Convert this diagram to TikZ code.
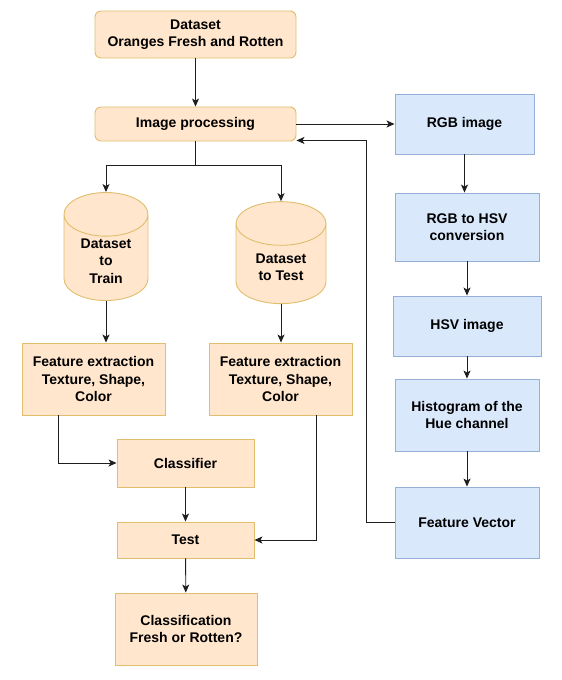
\documentclass[tikz,border=0pt]{standalone}
\usepackage{fontspec}
\setmainfont{Liberation Sans}
\usepackage{tikz}
\usepackage{xcolor}
\usetikzlibrary{arrows.meta, positioning, shapes.geometric}
\definecolor{orangefill}{RGB}{255,230,204}
\definecolor{orangeline}{RGB}{224,190,110}
\definecolor{bluefill}{RGB}{218,232,252}
\definecolor{blueline}{RGB}{150,175,215}
\definecolor{arrowgray}{RGB}{30,30,30}

\begin{document}
\begin{tikzpicture}[x=1pt, y=-1pt,
    every node/.style={font=\bfseries\fontsize{14}{17.5}\selectfont, align=center, inner sep=2pt},
    obox/.style={draw=orangeline, fill=orangefill, line width=0.9pt},
    rbox/.style={obox, rounded corners=6pt},
    bbox/.style={draw=blueline, fill=bluefill, line width=0.9pt},
    dbase/.style={cylinder, shape border rotate=90, aspect=0.8, draw=orangeline,
      fill=orangefill, line width=0.9pt},
    arr/.style={-{Stealth[length=8pt, width=7pt, inset=2pt]}, arrowgray, line width=0.9pt}]
        \useasboundingbox (0,0) rectangle (562,680);
        % Left column
        \node[rbox, minimum width=201pt, minimum height=47pt] (data) at (195.5,34.5)
          {Dataset\\Oranges Fresh and Rotten};
        \node[rbox, minimum width=201pt, minimum height=34pt] (improc) at (195.5,124)
          {Image processing};
        \node[dbase, minimum width=84pt, minimum height=99pt] (train) at (106,261)
          {Dataset\\to\\Train};
        \node[dbase, minimum width=90pt, minimum height=102pt] (test) at (281,267)
          {Dataset\\to Test};
        \node[obox, minimum width=143pt, minimum height=72pt] (featL) at (93.5,379)
          {Feature extraction\\Texture, Shape,\\Color};
        \node[obox, minimum width=143pt, minimum height=72pt] (featR) at (280.5,379)
          {Feature extraction\\Texture, Shape,\\Color};
        \node[obox, minimum width=137pt, minimum height=48pt] (classifier) at (185.5,463)
          {Classifier};
        \node[obox, minimum width=137pt, minimum height=36pt] (testbox) at (185.5,540)
          {Test};
        \node[obox, minimum width=142pt, minimum height=72pt] (result) at (186,629)
          {Classification\\Fresh or Rotten?};
        % Right column
        \node[bbox, minimum width=139pt, minimum height=60pt] (rgb) at (464.5,124)
          {RGB image};
        \node[bbox, minimum width=144pt, minimum height=68pt] (conv) at (467,227)
          {RGB to HSV\\conversion};
        \node[bbox, minimum width=148pt, minimum height=60pt] (hsv) at (467,326)
          {HSV image};
        \node[bbox, minimum width=144pt, minimum height=72pt] (hist) at (467,415)
          {Histogram of the\\Hue channel};
        \node[bbox, minimum width=144pt, minimum height=71pt] (fvec) at (467,522.5)
          {Feature Vector};
        % Connectors
        \draw[arr] (data) -- (improc);
        \draw[arr] (improc) -- (rgb);
        \draw[arrowgray, line width=0.9pt] (improc.south) -- ++(0,24) coordinate (split);
        \draw[arr] (split) -| (train.north);
        \draw[arr] (split) -| (test.north);
        \draw[arr] (train.south) -- (train.south |- featL.north);
        \draw[arr] (test.south) -- (test.south |- featR.north);
        \draw[arr] ([xshift=-35.5pt]featL.south) |- (classifier.west);
        \draw[arr] ([xshift=35.5pt]featR.south) |- (testbox.east);
        \draw[arr] (classifier) -- (testbox);
        \draw[arr] (testbox) -- (result);
        \draw[arr] (rgb.south) -- (rgb.south |- conv.north);
        \draw[arr] (conv.south) -- (conv.south |- hsv.north);
        \draw[arr] (hsv.south) -- (hsv.south |- hist.north);
        \draw[arr] (hist.south) -- (hist.south |- fvec.north);
        \draw[arr] (fvec.west) -- ++(-28,0) |- ([yshift=1pt]improc.south east);
\end{tikzpicture}
\end{document}
